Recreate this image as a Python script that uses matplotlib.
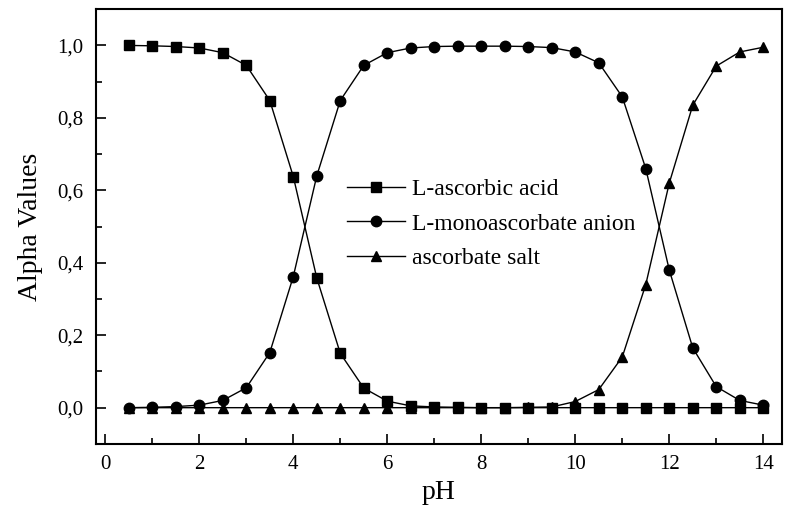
import matplotlib
matplotlib.use("Agg")
import matplotlib.pyplot as plt
from matplotlib.ticker import MultipleLocator, FuncFormatter

plt.rcParams['font.family'] = ['Liberation Serif', 'DejaVu Serif']

ph = [0.5, 1.0, 1.5, 2.0, 2.5, 3.0, 3.5, 4.0, 4.5, 5.0, 5.5, 6.0, 6.5, 7.0,
      7.5, 8.0, 8.5, 9.0, 9.5, 10.0, 10.5, 11.0, 11.5, 12.0, 12.5, 13.0, 13.5, 14.0]

ascorbic_acid = [1.000, 0.999, 0.997, 0.993, 0.980, 0.945, 0.848, 0.638, 0.358, 0.150,
                 0.054, 0.018, 0.005, 0.002, 0.001, 0.000, 0.000, 0.000, 0.000, 0.000,
                 0.000, 0.000, 0.000, 0.000, 0.000, 0.000, 0.000, 0.000]

monoascorbate = [0.000, 0.001, 0.003, 0.007, 0.020, 0.055, 0.152, 0.362, 0.640, 0.848,
                 0.945, 0.980, 0.993, 0.997, 0.998, 0.998, 0.998, 0.997, 0.994, 0.982,
                 0.952, 0.858, 0.660, 0.380, 0.165, 0.058, 0.020, 0.007]

ascorbate_salt = [0.000, 0.000, 0.000, 0.000, 0.000, 0.000, 0.000, 0.000, 0.000, 0.000,
                  0.000, 0.000, 0.000, 0.000, 0.000, 0.000, 0.000, 0.001, 0.002, 0.017,
                  0.050, 0.140, 0.340, 0.620, 0.835, 0.943, 0.982, 0.995]

series_names = ["L-ascorbic acid", "L-monoascorbate anion", "ascorbate salt"]

fig = plt.figure(figsize=(7.86, 5.12), dpi=100)
ax = fig.add_axes([0.122, 0.133, 0.873, 0.849])

style = dict(color="black", linewidth=1.0, markersize=7.5)
ax.plot(ph, ascorbic_acid, marker="s", label=series_names[0], **style)
ax.plot(ph, monoascorbate, marker="o", label=series_names[1], **style)
ax.plot(ph, ascorbate_salt, marker="^", label=series_names[2], **style)

ax.set_xlim(-0.2, 14.4)
ax.set_ylim(-0.1, 1.1)

ax.xaxis.set_major_locator(MultipleLocator(2))
ax.xaxis.set_minor_locator(MultipleLocator(1))
ax.yaxis.set_major_locator(MultipleLocator(0.2))
ax.yaxis.set_minor_locator(MultipleLocator(0.1))
ax.yaxis.set_major_formatter(FuncFormatter(lambda v, p: f"{v:.1f}".replace(".", ",")))

ax.tick_params(which="both", direction="in", top=False, right=False, labelsize=15, width=1.2)
ax.tick_params(which="major", length=7)
ax.tick_params(which="minor", length=4)
ax.tick_params(axis="y", which="major", pad=9)
ax.tick_params(axis="x", which="major", pad=8)
for s in ax.spines.values():
    s.set_linewidth(1.5)

ax.set_xlabel("pH", fontsize=20, labelpad=4)
ax.set_ylabel("Alpha Values", fontsize=20, labelpad=10)

ax.legend(loc="upper left", bbox_to_anchor=(0.352, 0.632), frameon=False, fontsize=17,
          handlelength=2.45, handletextpad=0.3, labelspacing=0.55, borderaxespad=0)

fig.savefig("out.png", dpi=100)
